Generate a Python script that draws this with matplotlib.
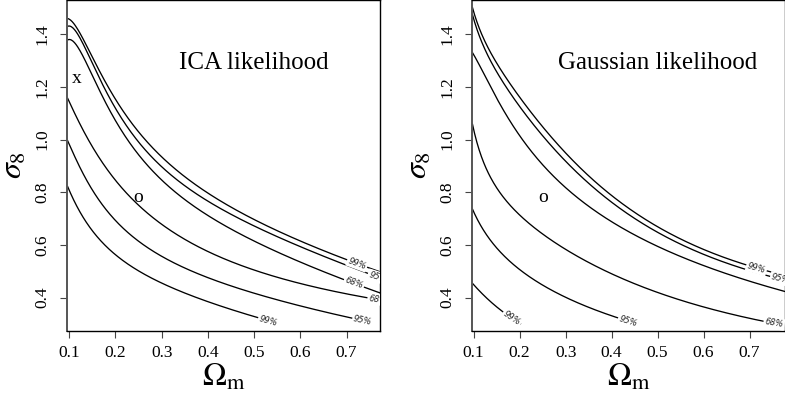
import numpy as np
import matplotlib
matplotlib.use("Agg")
import matplotlib.pyplot as plt

plt.rcParams['font.family'] = ['Liberation Serif', 'DejaVu Serif']
plt.rcParams['mathtext.fontset'] = 'stix'

# ---------------- data: ICA likelihood contours ----------------
ica_a_x = [0.096, 0.105, 0.117, 0.132, 0.161, 0.204, 0.269, 0.301, 0.336, 0.426, 0.5, 0.556, 0.6, 0.7, 0.775]
ica_a_y = [1.458, 1.450, 1.423, 1.378, 1.277, 1.138, 0.986, 0.929, 0.885, 0.773, 0.695, 0.649, 0.612, 0.543, 0.498]
ica_b_x = [0.096, 0.105, 0.117, 0.132, 0.161, 0.204, 0.282, 0.318, 0.426, 0.5, 0.556, 0.6, 0.7, 0.775]
ica_b_y = [1.433, 1.424, 1.400, 1.359, 1.252, 1.106, 0.923, 0.870, 0.743, 0.672, 0.625, 0.592, 0.524, 0.473]
ica_c_x = [0.096, 0.105, 0.117, 0.132, 0.161, 0.204, 0.258, 0.275, 0.35, 0.426, 0.5, 0.556, 0.6, 0.7, 0.775]
ica_c_y = [1.381, 1.374, 1.353, 1.309, 1.207, 1.056, 0.923, 0.893, 0.780, 0.676, 0.612, 0.570, 0.538, 0.465, 0.415]
ica_d_x = [0.096, 0.125, 0.161, 0.2, 0.253, 0.325, 0.397, 0.435, 0.5, 0.556, 0.6, 0.7, 0.775]
ica_d_y = [1.157, 1.055, 0.942, 0.845, 0.740, 0.650, 0.581, 0.548, 0.505, 0.472, 0.452, 0.414, 0.391]
ica_e_x = [0.096, 0.125, 0.161, 0.2, 0.253, 0.325, 0.4, 0.435, 0.5, 0.556, 0.6, 0.7, 0.750]
ica_e_y = [0.999, 0.885, 0.775, 0.695, 0.615, 0.535, 0.470, 0.448, 0.418, 0.392, 0.370, 0.328, 0.305]
ica_f_x = [0.096, 0.125, 0.161, 0.2, 0.253, 0.3, 0.35, 0.426, 0.5, 0.546]
ica_f_y = [0.823, 0.720, 0.631, 0.560, 0.498, 0.455, 0.421, 0.365, 0.329, 0.305]

# ---------------- data: Gaussian likelihood contours ----------------
gau_a_x = [0.097, 0.128, 0.146, 0.172, 0.208, 0.244, 0.280, 0.317, 0.353, 0.389, 0.44, 0.5, 0.6, 0.7, 0.778]
gau_a_y = [1.500, 1.370, 1.302, 1.226, 1.138, 1.056, 0.986, 0.923, 0.866, 0.805, 0.735, 0.660, 0.583, 0.524, 0.482]
gau_b_x = [0.097, 0.128, 0.146, 0.172, 0.208, 0.244, 0.280, 0.317, 0.353, 0.389, 0.44, 0.5, 0.6, 0.7, 0.778]
gau_b_y = [1.473, 1.340, 1.268, 1.192, 1.103, 1.022, 0.953, 0.892, 0.836, 0.780, 0.712, 0.640, 0.564, 0.505, 0.465]
gau_c_x = [0.097, 0.128, 0.164, 0.185, 0.208, 0.244, 0.280, 0.341, 0.4, 0.44, 0.5, 0.6, 0.7, 0.778]
gau_c_y = [1.330, 1.233, 1.115, 1.050, 0.995, 0.915, 0.850, 0.760, 0.690, 0.648, 0.592, 0.520, 0.464, 0.422]
gau_d_x = [0.097, 0.106, 0.114, 0.131, 0.160, 0.196, 0.233, 0.305, 0.377, 0.418, 0.457, 0.5, 0.6, 0.7, 0.76]
gau_d_y = [1.055, 1.000, 0.955, 0.875, 0.790, 0.718, 0.663, 0.578, 0.511, 0.478, 0.448, 0.418, 0.362, 0.322, 0.300]
gau_e_x = [0.097, 0.124, 0.160, 0.201, 0.269, 0.341, 0.410, 0.452]
gau_e_y = [0.737, 0.650, 0.568, 0.505, 0.429, 0.369, 0.325, 0.302]
gau_f_x = [0.097, 0.124, 0.160, 0.203]
gau_f_y = [0.454, 0.407, 0.349, 0.300]

# contour labels: (curve, label text, x position of label)
ica_curves = [(ica_a_x, ica_a_y, '99%', 0.723), (ica_b_x, ica_b_y, '95%', 0.768),
              (ica_c_x, ica_c_y, '68%', 0.716), (ica_d_x, ica_d_y, '68%', 0.768),
              (ica_e_x, ica_e_y, '95%', 0.735), (ica_f_x, ica_f_y, '99%', 0.531)]
gau_curves = [(gau_a_x, gau_a_y, '99%', 0.715), (gau_b_x, gau_b_y, '95%', 0.767),
              (gau_c_x, gau_c_y, None, None), (gau_d_x, gau_d_y, '68%', 0.753),
              (gau_e_x, gau_e_y, '95%', 0.436), (gau_f_x, gau_f_y, '99%', 0.183)]

panel_titles = ['ICA likelihood', 'Gaussian likelihood']
xticks = [0.1, 0.2, 0.3, 0.4, 0.5, 0.6, 0.7]
xtick_labels = ['0.1', '0.2', '0.3', '0.4', '0.5', '0.6', '0.7']
yticks = [0.4, 0.6, 0.8, 1.0, 1.2, 1.4]
ytick_labels = ['0.4', '0.6', '0.8', '1.0', '1.2', '1.4']
x_markers = [(0.117, 1.216, 'x'), (0.249, 0.764, 'o')]
g_markers = [(0.25, 0.764, 'o')]

fig = plt.figure(figsize=(7.85, 3.93), dpi=100)
ax1 = fig.add_axes([67.3 / 785, 62 / 393, 312.7 / 785, 331 / 393])
ax2 = fig.add_axes([472.3 / 785, 62 / 393, 312.7 / 785, 331 / 393])
ax1.set_xlim(0.0957, 0.7725)
ax2.set_xlim(0.097, 0.777)


def render_curve(xs, ys):
    """Draw a smooth line through the read points (least-squares in log-log space)."""
    xs = np.asarray(xs, float)
    ys = np.asarray(ys, float)
    n = len(xs)
    deg = 4 if n >= 9 else (3 if n >= 6 else 2)
    lx, ly = np.log(xs), np.log(ys)
    coef = np.polyfit(lx, ly, deg)
    t = np.linspace(xs[0], xs[-1], 400)
    return t, np.exp(np.polyval(coef, np.log(t)))


for ax, curves, title, markers in [(ax1, ica_curves, panel_titles[0], x_markers),
                                   (ax2, gau_curves, panel_titles[1], g_markers)]:
    ax.set_ylim(0.273, 1.530)
    for xs, ys, lab, lx in curves:
        tx, ty = render_curve(xs, ys)
        ax.plot(tx, ty, color='black', lw=0.95, solid_capstyle='butt', zorder=2)
        if lab is not None:
            ly = np.interp(lx, tx, ty)
            p1 = ax.transData.transform((lx - 0.01, np.interp(lx - 0.01, tx, ty)))
            p2 = ax.transData.transform((lx + 0.01, np.interp(lx + 0.01, tx, ty)))
            ang = np.degrees(np.arctan2(p2[1] - p1[1], p2[0] - p1[0]))
            ax.text(lx, ly, lab, fontsize=6, family=['DejaVu Sans'], style='italic',
                    color='#222222', rotation=ang, rotation_mode='anchor',
                    ha='center', va='center', zorder=3, clip_on=True,
                    bbox=dict(boxstyle='square,pad=0.15', fc='white', ec='none'))
    ax.text(0.499, 1.267, title, fontsize=18, ha='center', va='baseline', zorder=4)
    for mx, my, mt in markers:
        ax.text(mx, my, mt, fontsize=14, ha='center', va='baseline', zorder=4)
    ax.set_xticks(xticks)
    ax.set_xticklabels(xtick_labels)
    ax.set_yticks(yticks)
    ax.set_yticklabels(ytick_labels, rotation=90, va='center')
    ax.tick_params(axis='both', direction='out', length=5, width=0.8, labelsize=12.5,
                   color='#444444')
    ax.tick_params(axis='x', pad=5)
    ax.tick_params(axis='y', pad=7)
    for sp in ax.spines.values():
        sp.set_linewidth(1.0)
        sp.set_color('black')
    ax.spines['left'].set_color('#555555')
    ax.spines['left'].set_linewidth(1.4)
    ax.text(0.5, -0.14, r'$\Omega_\mathrm{m}$', transform=ax.transAxes, fontsize=23,
            ha='center', va='center')
    ax.text(-0.168, 0.5, r'$\sigma_8$', transform=ax.transAxes, fontsize=23,
            ha='center', va='center', rotation=90)

fig.savefig('out.png', dpi=100)
